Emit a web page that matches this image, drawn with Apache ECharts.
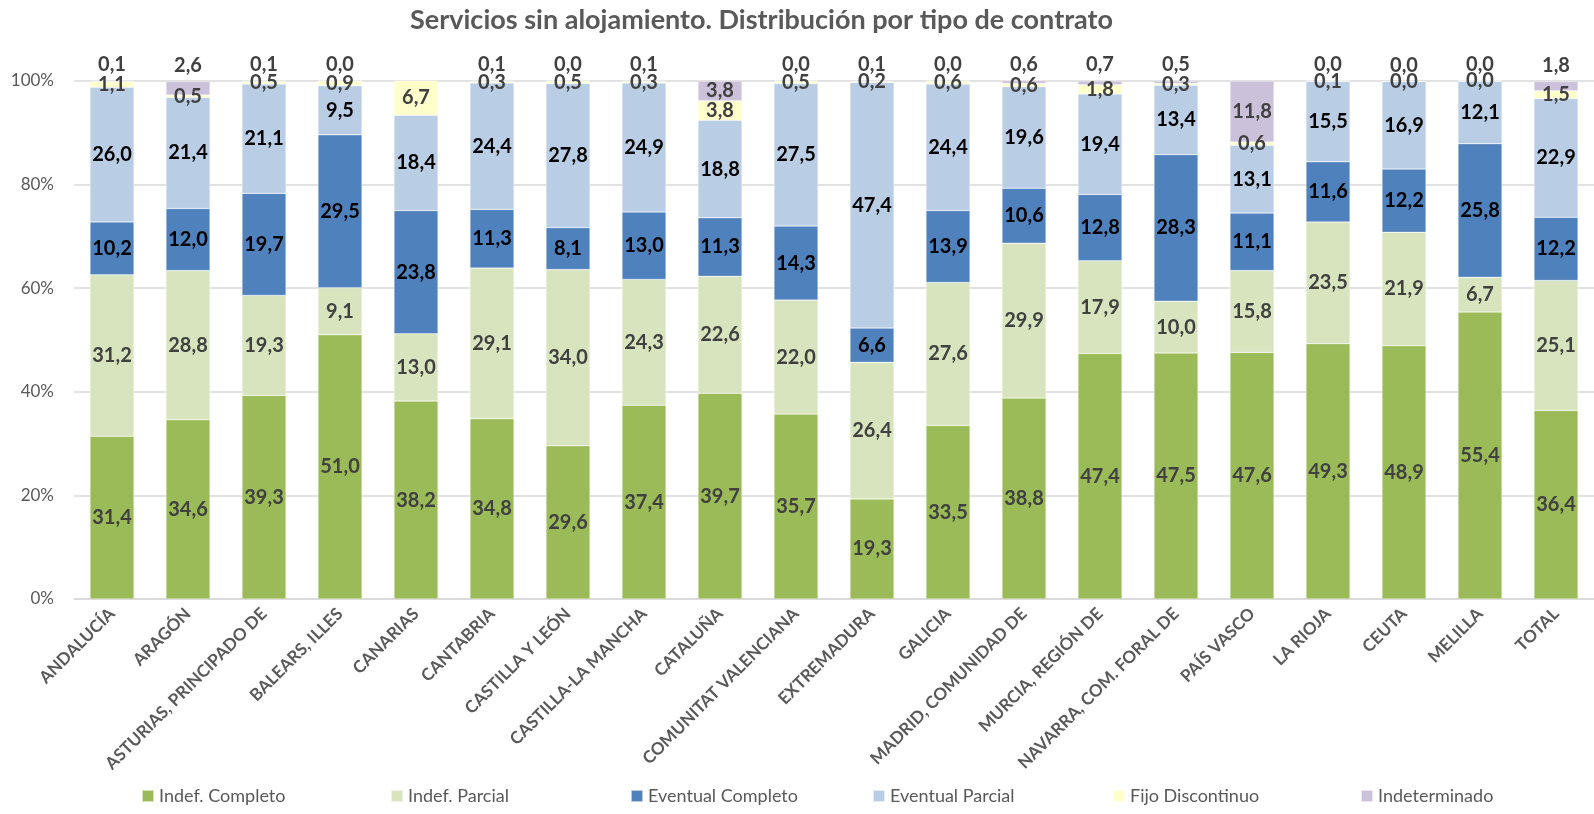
<!DOCTYPE html>
<html>
<head>
<meta charset="utf-8">
<script src="https://cdn.jsdelivr.net/npm/echarts@6/dist/echarts.min.js"></script>
<style>
  html, body { margin: 0; padding: 0; background: #fff; }
  #chart { width: 1594px; height: 814px; }
</style>
</head>
<body>
<div id="chart"></div>
<script>
// categorías (comunidades)
var categories = ['ANDALUCÍA', 'ARAGÓN', 'ASTURIAS, PRINCIPADO DE', 'BALEARS, ILLES', 'CANARIAS',
    'CANTABRIA', 'CASTILLA Y LEÓN', 'CASTILLA-LA MANCHA', 'CATALUÑA', 'COMUNITAT VALENCIANA',
    'EXTREMADURA', 'GALICIA', 'MADRID, COMUNIDAD DE', 'MURCIA, REGIÓN DE', 'NAVARRA, COM. FORAL DE',
    'PAÍS VASCO', 'LA RIOJA', 'CEUTA', 'MELILLA', 'TOTAL'];

// valores por tipo de contrato (%)
var indefCompleto = [31.4, 34.6, 39.3, 51.0, 38.2, 34.8, 29.6, 37.4, 39.7, 35.7, 19.3, 33.5, 38.8, 47.4, 47.5, 47.6, 49.3, 48.9, 55.4, 36.4];
var indefParcial = [31.2, 28.8, 19.3, 9.1, 13.0, 29.1, 34.0, 24.3, 22.6, 22.0, 26.4, 27.6, 29.9, 17.9, 10.0, 15.8, 23.5, 21.9, 6.7, 25.1];
var eventualCompleto = [10.2, 12.0, 19.7, 29.5, 23.8, 11.3, 8.1, 13.0, 11.3, 14.3, 6.6, 13.9, 10.6, 12.8, 28.3, 11.1, 11.6, 12.2, 25.8, 12.2];
var eventualParcial = [26.0, 21.4, 21.1, 9.5, 18.4, 24.4, 27.8, 24.9, 18.8, 27.5, 47.4, 24.4, 19.6, 19.4, 13.4, 13.1, 15.5, 16.9, 12.1, 22.9];
var fijoDiscontinuo = [1.1, 0.5, 0.5, 0.9, 6.7, 0.3, 0.5, 0.3, 3.8, 0.5, 0.2, 0.6, 0.6, 1.8, 0.3, 0.6, 0.1, 0.0, 0.0, 1.5];
var indeterminado = [0.1, 2.6, 0.1, 0.0, 0.0, 0.1, 0.0, 0.1, 3.8, 0.0, 0.1, 0.0, 0.6, 0.7, 0.5, 11.8, 0.0, 0.0, 0.0, 1.8];

// ticks del eje Y
var yTicks = [0, 20, 40, 60, 80, 100];

var FONT = 'Lato, "Open Sans", sans-serif';

function fmt(v) {
    return v.toFixed(1).replace('.', ',');
}

function serie(name, data, color, labelColor) {
    return {
        name: name,
        type: 'bar',
        stack: 'total',
        barWidth: 44,
        data: data,
        itemStyle: { color: color, borderColor: 'rgba(255,255,255,0.6)', borderWidth: 0.5 },
        label: {
            show: true,
            position: 'inside',
            fontFamily: FONT,
            fontWeight: 'bold',
            fontSize: 20,
            color: labelColor,
            formatter: function (p) { return fmt(p.value); }
        }
    };
}

var series = [
    serie('Indef. Completo', indefCompleto, '#9BBB59', '#404040'),
    serie('Indef. Parcial', indefParcial, '#D7E4BD', '#404040'),
    serie('Eventual Completo', eventualCompleto, '#4F81BD', '#000000'),
    serie('Eventual Parcial', eventualParcial, '#B9CDE5', '#000000'),
    serie('Fijo Discontinuo', fijoDiscontinuo, '#FFFFCC', '#404040'),
    serie('Indeterminado', indeterminado.map(function (v) {
        // etiquetas pequeñas encima de la barra
        return v < 3 ? { value: v, label: { position: 'top', distance: 6 } } : v;
    }), '#CCC1DA', '#404040')
];

// una leyenda por serie, repartidas como en Excel
var legendLeft = [136, 385, 625, 867, 1107, 1355];
var legends = series.map(function (s, i) {
    return {
        bottom: 4,
        left: legendLeft[i],
        itemWidth: 12,
        itemHeight: 12,
        itemGap: 6,
        icon: 'rect',
        selectedMode: false,
        textStyle: { fontFamily: FONT, fontSize: 18, color: '#595959' },
        data: [s.name]
    };
});

var chart = echarts.init(document.getElementById('chart'));
chart.setOption({
    animation: false,
    title: {
        text: 'Servicios sin alojamiento. Distribución por tipo de contrato',
        left: 405,
        top: 2,
        textStyle: { fontFamily: FONT, fontSize: 27, fontWeight: 'bold', color: '#595959' }
    },
    legend: legends,
    grid: { left: 74, right: 0, top: 81, bottom: 215 },
    xAxis: {
        type: 'category',
        data: categories,
        axisTick: { show: false },
        axisLine: { lineStyle: { color: '#D9D9D9', width: 1.5 } },
        axisLabel: {
            interval: 0,
            rotate: 45,
            margin: 12,
            fontFamily: FONT,
            fontSize: 17,
            fontWeight: 'bold',
            color: '#595959'
        }
    },
    yAxis: {
        type: 'value',
        min: yTicks[0],
        max: yTicks[yTicks.length - 1],
        interval: 20,
        axisLabel: {
            fontFamily: FONT,
            fontSize: 17,
            color: '#595959',
            margin: 20,
            formatter: '{value}%'
        },
        splitLine: { lineStyle: { color: '#D9D9D9', width: 1.5 } }
    },
    series: series
});
</script>
</body>
</html>
